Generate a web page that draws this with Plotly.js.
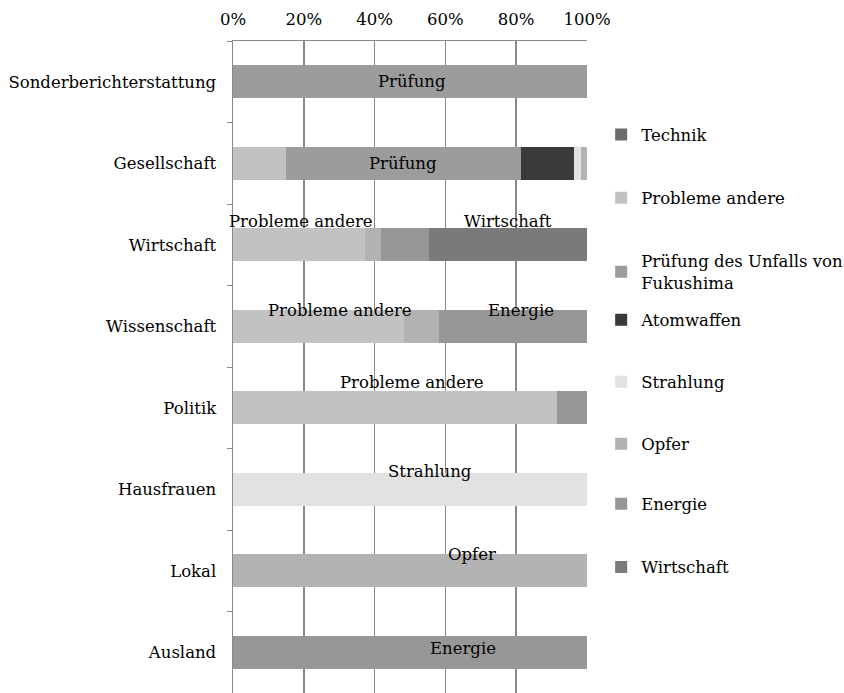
<!DOCTYPE html>
<html>
<head>
<meta charset="utf-8">
<script src="https://cdn.plot.ly/plotly-3.0.1.min.js"></script>
<style>html,body{margin:0;padding:0;background:#fff;}#chart{width:844px;height:693px;}</style>
</head>
<body>
<div id="chart"></div>
<script>
// Categories (top to bottom)
const categories = ["Sonderberichterstattung","Gesellschaft","Wirtschaft","Wissenschaft","Politik","Hausfrauen","Lokal","Ausland"];

// Series names (legend order, also stacking order left to right)
const seriesNames = ["Technik","Probleme andere","Prüfung des Unfalls von<br>Fukushima","Atomwaffen","Strahlung","Opfer","Energie","Wirtschaft"];

// Percent shares per category
const technik    = [0, 0,    0,    0,    0,    0,   0,   0];
const probleme   = [0, 15.0, 37.3, 48.3, 91.6, 0,   0,   0];
const pruefung   = [100, 66.4, 0,  0,    0,    0,   0,   0];
const atomwaffen = [0, 14.9, 0,    0,    0,    0,   0,   0];
const strahlung  = [0, 2.1,  0,    0,    0,    100, 0,   0];
const opfer      = [0, 1.6,  4.5,  9.9,  0,    0,   100, 0];
const energie    = [0, 0,    13.6, 41.8, 8.4,  0,   0,   100];
const wirtschaft = [0, 0,    44.6, 0,    0,    0,   0,   0];

// X tick labels
const xTickVals = [0, 20, 40, 60, 80, 100];
const xTickText = ["0%", "20%", "40%", "60%", "80%", "100%"];

const seriesValues = [technik, probleme, pruefung, atomwaffen, strahlung, opfer, energie, wirtschaft];
const seriesColors = ["#6c6c6c","#c2c2c2","#9c9c9c","#3a3a3a","#e2e2e2","#b2b2b2","#979797","#7a7a7a"];

// Data label texts and their categories
const labelTexts = ["Prüfung","Prüfung","Probleme andere","Wirtschaft","Probleme andere","Energie","Probleme andere","Strahlung","Opfer","Energie"];
const labelCats  = ["Sonderberichterstattung","Gesellschaft","Wirtschaft","Wirtschaft","Wissenschaft","Wissenschaft","Politik","Hausfrauen","Lokal","Ausland"];
// label placement (layout)
const labelPosX  = [50.6, 48.0, 19.2, 77.7, 30.2, 81.4, 50.5, 55.6, 67.5, 65.0];
const labelShift = [0, 0, 23, 23, 16, 16, 25, 18, 16, 4];

const font = "DejaVu Serif, serif";
const fs = 16.5;
const legendY = [0.856, 0.759, 0.646, 0.572, 0.477, 0.382, 0.290, 0.193];

const traces = seriesNames.map((name, i) => ({
  type: "bar",
  orientation: "h",
  name: name,
  y: categories,
  x: seriesValues[i],
  width: 0.41,
  marker: {color: seriesColors[i], line: {width: 0}},
  legend: i === 0 ? "legend" : "legend" + (i + 1),
  hoverinfo: "x+y+name"
}));

const layout = {
  width: 844, height: 693,
  margin: {l: 233, r: 257, t: 41, b: 0, pad: 0, autoexpand: false},
  barmode: "stack",
  paper_bgcolor: "#fff", plot_bgcolor: "#fff",
  font: {family: font, size: fs, color: "#000"},
  xaxis: {
    side: "top", range: [0, 100], tickmode: "array", tickvals: xTickVals, ticktext: xTickText,
    showgrid: true, gridcolor: "#8a8a8a", gridwidth: 1.5,
    showline: true, linecolor: "#8a8a8a", linewidth: 1.5,
    ticks: "", zeroline: false, fixedrange: true, ticklabelstandoff: 8,
    tickfont: {family: font, size: fs, color: "#000"}
  },
  yaxis: {
    categoryorder: "array", categoryarray: categories, autorange: "reversed",
    showline: true, linecolor: "#8a8a8a", linewidth: 1.5,
    ticks: "outside", ticklen: 5, tickcolor: "#8a8a8a", tickson: "boundaries",
    showgrid: false, zeroline: false, ticklabelstandoff: 12,
    tickfont: {family: font, size: fs, color: "#000"}
  },
  annotations: labelTexts.map((t, i) => ({
    x: labelPosX[i], y: labelCats[i], xref: "x", yref: "y",
    text: t, showarrow: false, yshift: labelShift[i],
    font: {family: font, size: fs, color: "#000"}
  })),
  showlegend: true
};

seriesNames.forEach((n, i) => {
  const key = i === 0 ? "legend" : "legend" + (i + 1);
  layout[key] = {
    x: 1.04, y: legendY[i], xanchor: "left", yanchor: "middle",
    bgcolor: "rgba(0,0,0,0)", borderwidth: 0,
    font: {family: font, size: fs, color: "#000"},
    itemwidth: 30, itemclick: false, itemdoubleclick: false
  };
});

Plotly.newPlot("chart", traces, layout, {displayModeBar: false, staticPlot: true});
</script>
</body>
</html>
